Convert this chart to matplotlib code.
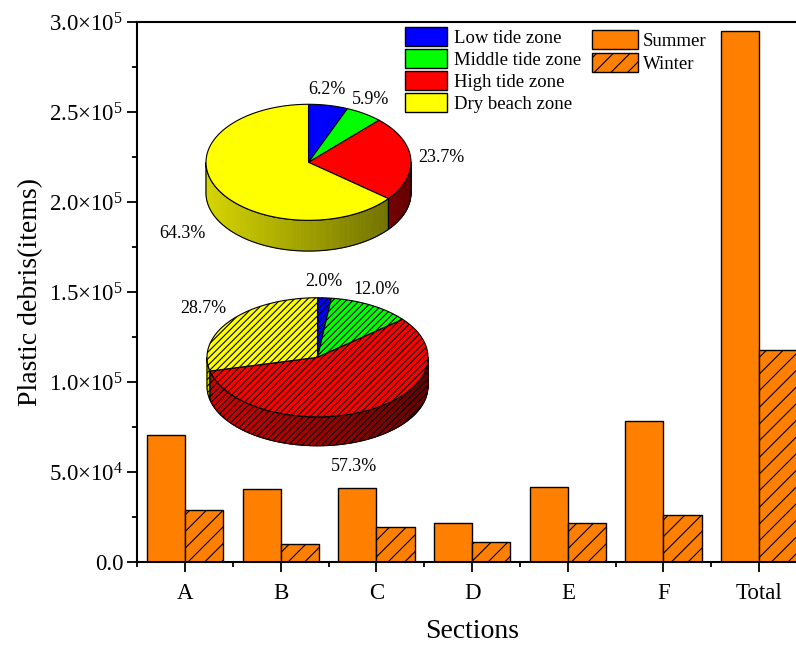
import numpy as np
import matplotlib
matplotlib.use('Agg')
import matplotlib.pyplot as plt
from matplotlib.patches import Polygon, Patch
from matplotlib.ticker import FixedLocator, MultipleLocator

plt.rcParams['font.family'] = ['Liberation Serif', 'DejaVu Serif']
plt.rcParams['hatch.linewidth'] = 0.8

# ---- data ----
sections = ['A', 'B', 'C', 'D', 'E', 'F', 'Total']
summer = [70900, 40900, 41100, 22000, 41800, 78700, 295300]
winter = [29100, 10000, 19800, 11300, 22000, 26300, 117900]

zones = ['Low tide zone', 'Middle tide zone', 'High tide zone', 'Dry beach zone']
zone_colors = ['#0000FF', '#00FF00', '#FF0000', '#FFFF00']
summer_share = [6.2, 5.9, 23.7, 64.3]
winter_share = [2.0, 12.0, 57.3, 28.7]

yticks = [0, 5e4, 1e5, 1.5e5, 2e5, 2.5e5, 3e5]
ytick_labels = ['0.0',
                r'$\mathregular{5.0{\times}10^{4}}$',
                r'$\mathregular{1.0{\times}10^{5}}$',
                r'$\mathregular{1.5{\times}10^{5}}$',
                r'$\mathregular{2.0{\times}10^{5}}$',
                r'$\mathregular{2.5{\times}10^{5}}$',
                r'$\mathregular{3.0{\times}10^{5}}$']

ORANGE = '#FF8000'
BAR_HATCH = '//'
PIE_HATCH = '/////'
W, H = 796, 645

fig = plt.figure(figsize=(W / 100, H / 100), dpi=100)
ax = fig.add_axes([137.3 / W, 1 - 562.3 / H, (807 - 137.3) / W, (562.3 - 22.3) / H])

x = np.arange(len(sections))
bw = 0.4
ax.bar(x - bw / 2, summer, bw, color=ORANGE, edgecolor='black', linewidth=1.0, zorder=2)
ax.bar(x + bw / 2, winter, bw, color=ORANGE, edgecolor='black', linewidth=1.0,
       hatch=BAR_HATCH, zorder=2)

ax.set_xlim(-0.5, len(sections) - 0.5)
ax.set_ylim(0, 3e5)
ax.set_xticks(x, sections)
ax.xaxis.set_minor_locator(FixedLocator(np.arange(-0.5, len(sections), 1.0)))
ax.set_yticks(yticks, ytick_labels)
ax.yaxis.set_minor_locator(MultipleLocator(2.5e4))
for s in ax.spines.values():
    s.set_linewidth(1.5)
ax.tick_params(which='major', direction='out', length=7, width=1.3, labelsize=16.5, pad=3)
ax.tick_params(which='minor', direction='out', length=3.5, width=1.3)
ax.tick_params(axis='x', which='major', pad=8)
ax.set_xlabel('Sections', fontsize=20, labelpad=11)
ax.set_ylabel('Plastic debris(items)', fontsize=20, labelpad=4)


def pie3d(cx, cy, rx, ry, depth, shares, hatch, nudges):
    """Tilted pie with a shaded rim; cx, cy, rx in figure pixels, ry/depth relative to rx."""
    S = 1.7
    pax = fig.add_axes([(cx - S * rx) / W, 1 - (cy + S * rx) / H,
                        2 * S * rx / W, 2 * S * rx / H])
    pax.set_xlim(-S, S)
    pax.set_ylim(-S, S)
    pax.axis('off')
    pax.patch.set_alpha(0)

    fr = np.asarray(shares, float) / np.sum(shares)
    edges = 90 - 360 * np.concatenate([[0], np.cumsum(fr)])

    for i, col in enumerate(zone_colors):
        a0, a1 = edges[i], edges[i + 1]
        rgb = np.array(matplotlib.colors.to_rgb(col))
        # visible rim (front half of the ellipse)
        lo, hi = max(a1, -180), min(a0, 0)
        if hi > lo:
            ts = np.linspace(lo, hi, max(int(hi - lo), 2) + 1)
            for t0, t1 in zip(ts[:-1], ts[1:]):
                tm = np.radians(0.5 * (t0 + t1))
                shade = 0.62 - 0.22 * np.cos(tm)
                tt = np.radians(np.linspace(t0, t1, 4))
                top = np.c_[np.cos(tt), ry * np.sin(tt)]
                bot = np.c_[np.cos(tt[::-1]), ry * np.sin(tt[::-1]) - depth]
                pax.add_patch(Polygon(np.vstack([top, bot]), closed=True,
                                      facecolor=rgb * shade, edgecolor=rgb * shade,
                                      linewidth=0.6, zorder=1))
            tt = np.radians(np.linspace(lo, hi, 120))
            top = np.c_[np.cos(tt), ry * np.sin(tt)]
            bot = np.c_[np.cos(tt[::-1]), ry * np.sin(tt[::-1]) - depth]
            pax.add_patch(Polygon(np.vstack([top, bot]), closed=True, facecolor='none',
                                  edgecolor='black', linewidth=0.8, hatch=hatch, zorder=1.5))
        # top face
        tt = np.radians(np.linspace(a0, a1, 200))
        pts = np.vstack([[0, 0], np.c_[np.cos(tt), ry * np.sin(tt)]])
        pax.add_patch(Polygon(pts, closed=True, facecolor=col, edgecolor='black',
                              linewidth=0.8, hatch=hatch, zorder=2))
        # percentage label
        m = np.radians(0.5 * (a0 + a1))
        lx = 1.28 * np.cos(m) + nudges[i][0]
        ly = 1.28 * ry * np.sin(m) - (depth if np.sin(m) < 0 else 0) + nudges[i][1]
        pax.text(lx, ly, f'{shares[i]:.1f}%', fontsize=13, ha='center', va='center',
                 zorder=3)
    return pax


pie3d(308.5, 162.3, 102.5, 0.566, 0.30, summer_share, None,
      [(-0.07, 0.0), (-0.09, 0.0), (0.02, 0.0), (-0.08, -0.08)])
pie3d(317.5, 357.3, 110.5, 0.539, 0.262, winter_share, PIE_HATCH,
      [(-0.02, 0.0), (-0.08, 0.01), (-0.24, -0.11), (-0.03, 0.015)])

zone_handles = [Patch(facecolor=c, edgecolor='black', linewidth=1.0) for c in zone_colors]
fig.legend(zone_handles, zones, loc='upper left', bbox_to_anchor=(405 / W, 1 - 27 / H),
           frameon=False, fontsize=13.5, handlelength=2.24, handleheight=1.17,
           labelspacing=0.12, handletextpad=0.35, borderpad=0, borderaxespad=0)

season_handles = [Patch(facecolor=ORANGE, edgecolor='black', linewidth=1.0),
                  Patch(facecolor=ORANGE, edgecolor='black', linewidth=1.0, hatch=BAR_HATCH)]
fig.legend(season_handles, ['Summer', 'Winter'], loc='upper left',
           bbox_to_anchor=(592 / W, 1 - 30 / H), frameon=False, fontsize=13.5,
           handlelength=2.43, handleheight=1.17, labelspacing=0.16, handletextpad=0.3,
           borderpad=0, borderaxespad=0)

fig.savefig('out.png', dpi=100)
